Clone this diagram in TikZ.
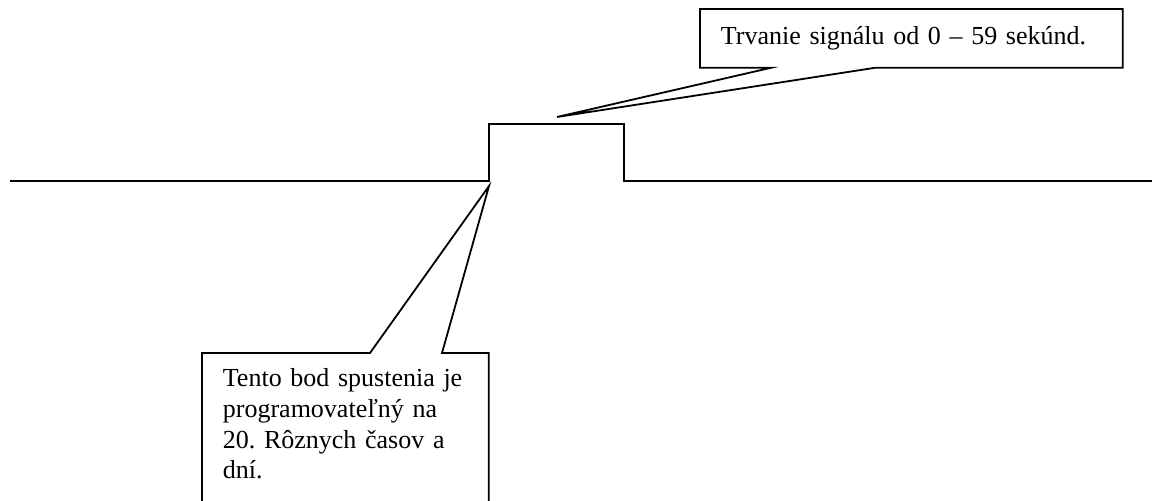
\documentclass[tikz,border=0pt]{standalone}
\usepackage{fontspec}
\setmainfont{Liberation Serif}
\frenchspacing
\usetikzlibrary{positioning,calc}

\begin{document}
\begin{tikzpicture}[x=0.5pt,y=-0.5pt,line width=0.9pt,
  callbox/.style={inner xsep=10pt,align=left,font=\fontsize{13pt}{15.3pt}\selectfont}]
  \useasboundingbox (0,0) rectangle (1155,501);
  \clip (0,0) rectangle (1155,501);

  % Signal line with the pulse
  \draw (10,181) -- (489,181) -- (489,124) -- (624,124) -- (624,181) -- (1152,181);
  \coordinate (start) at (489,186);
  \coordinate (pulse) at (557,117);

  % Duration callout
  \node[callbox, anchor=north west, minimum width=210.5pt, minimum height=28.5pt,
        text width=190.5pt] (dur) at (700,9) {Trvanie signálu od 0 – 59 sekúnd.};
  \draw (dur.north west) -- (dur.north east) -- (dur.south east)
    -- ($(dur.south west)+(175,0)$) -- (pulse) -- ($(dur.south west)+(71,0)$)
    -- (dur.south west) -- cycle;

  % Trigger point callout
  \node[callbox, anchor=north west, inner ysep=7.5pt, minimum width=142.5pt,
        text width=122.5pt] (trig) at (202,353)
    {Tento bod spustenia je\\ programovateľný na\\ 20. Rôznych časov a\\ dní.};
  \draw ($(trig.north west)+(0,180)$) -- (trig.north west)
    -- ($(trig.north west)+(168,0)$) -- (start) -- ($(trig.north west)+(240,0)$)
    -- (trig.north east) -- ($(trig.north east)+(0,180)$);
\end{tikzpicture}
\end{document}
